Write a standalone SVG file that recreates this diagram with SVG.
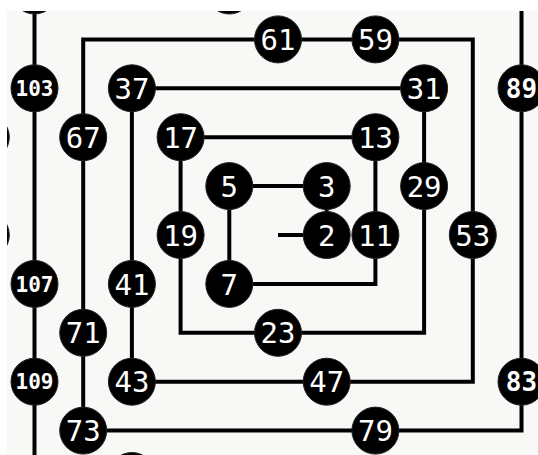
<svg xmlns="http://www.w3.org/2000/svg" width="538" height="455" viewBox="0 0 538 455">
<style>
.bg{fill:#f8f9f6}
.band{fill:#ffffff}
.wire{fill:none;stroke:#000;stroke-width:4;stroke-linejoin:miter}
.n circle{fill:#000;stroke:#222;stroke-width:1}
.n text{font-family:"DejaVu Sans Mono","Liberation Mono",monospace;font-size:29px;fill:#fff;text-anchor:middle}
.n text.s{font-size:21px;font-weight:bold}
.n text.m{font-size:26px;font-weight:bold}
</style>
<rect class="bg" x="0" y="0" width="538" height="455"/>
<g id="connectors">
<polyline class="wire" points="278,235 326.7,235 326.7,186.1 229.3,186.1 229.3,283.9 375.4,283.9 375.4,137.2 180.6,137.2 180.6,332.8 424.1,332.8 424.1,88.3 131.9,88.3 131.9,381.7 472.8,381.7 472.8,39.4 83.2,39.4 83.2,430.6 521.5,430.6 521.5,-9.5 34.5,-9.5 34.5,480"/>
</g>
<g id="n2" class="n"><circle cx="326.7" cy="235" r="23.5"/><text x="326.7" y="245.6">2</text></g>
<g id="n3" class="n"><circle cx="326.7" cy="186.1" r="23.5"/><text x="326.7" y="196.7">3</text></g>
<g id="n5" class="n"><circle cx="229.3" cy="186.1" r="23.5"/><text x="229.3" y="196.7">5</text></g>
<g id="n7" class="n"><circle cx="229.3" cy="283.9" r="23.5"/><text x="229.3" y="294.5">7</text></g>
<g id="n11" class="n"><circle cx="375.4" cy="235" r="23.5"/><text x="375.4" y="245.6">11</text></g>
<g id="n13" class="n"><circle cx="375.4" cy="137.2" r="23.5"/><text x="375.4" y="147.8">13</text></g>
<g id="n17" class="n"><circle cx="180.6" cy="137.2" r="23.5"/><text x="180.6" y="147.8">17</text></g>
<g id="n19" class="n"><circle cx="180.6" cy="235" r="23.5"/><text x="180.6" y="245.6">19</text></g>
<g id="n23" class="n"><circle cx="278" cy="332.8" r="23.5"/><text x="278" y="343.4">23</text></g>
<g id="n29" class="n"><circle cx="424.1" cy="186.1" r="23.5"/><text x="424.1" y="196.7">29</text></g>
<g id="n31" class="n"><circle cx="424.1" cy="88.3" r="23.5"/><text x="424.1" y="98.9">31</text></g>
<g id="n37" class="n"><circle cx="131.9" cy="88.3" r="23.5"/><text x="131.9" y="98.9">37</text></g>
<g id="n41" class="n"><circle cx="131.9" cy="283.9" r="23.5"/><text x="131.9" y="294.5">41</text></g>
<g id="n43" class="n"><circle cx="131.9" cy="381.7" r="23.5"/><text x="131.9" y="392.3">43</text></g>
<g id="n47" class="n"><circle cx="326.7" cy="381.7" r="23.5"/><text x="326.7" y="392.3">47</text></g>
<g id="n53" class="n"><circle cx="472.8" cy="235" r="23.5"/><text x="472.8" y="245.6">53</text></g>
<g id="n59" class="n"><circle cx="375.4" cy="39.4" r="23.5"/><text x="375.4" y="50">59</text></g>
<g id="n61" class="n"><circle cx="278" cy="39.4" r="23.5"/><text x="278" y="50">61</text></g>
<g id="n67" class="n"><circle cx="83.2" cy="137.2" r="23.5"/><text x="83.2" y="147.8">67</text></g>
<g id="n71" class="n"><circle cx="83.2" cy="332.8" r="23.5"/><text x="83.2" y="343.4">71</text></g>
<g id="n73" class="n"><circle cx="83.2" cy="430.6" r="23.5"/><text x="83.2" y="441.2">73</text></g>
<g id="n79" class="n"><circle cx="375.4" cy="430.6" r="23.5"/><text x="375.4" y="441.2">79</text></g>
<g id="n83" class="n"><circle cx="521.5" cy="381.7" r="23.5"/><text class="m" x="521.5" y="391.2">83</text></g>
<g id="n89" class="n"><circle cx="521.5" cy="88.3" r="23.5"/><text class="m" x="521.5" y="97.8">89</text></g>
<g id="n97" class="n"><circle cx="229.3" cy="-9.5" r="23.5"/></g>
<g id="n101" class="n"><circle cx="34.5" cy="-9.5" r="23.5"/></g>
<g id="n103" class="n"><circle cx="34.5" cy="88.3" r="23.5"/><text class="s" x="34.5" y="96">103</text></g>
<g id="n107" class="n"><circle cx="34.5" cy="283.9" r="23.5"/><text class="s" x="34.5" y="291.6">107</text></g>
<g id="n109" class="n"><circle cx="34.5" cy="381.7" r="23.5"/><text class="s" x="34.5" y="389.4">109</text></g>
<g id="n113" class="n"><circle cx="131.9" cy="476" r="23.5"/></g>
<g id="n149" class="n"><circle cx="-14.2" cy="137.2" r="23.5"/></g>
<g id="n151" class="n"><circle cx="-14.2" cy="235" r="23.5"/></g>
<rect class="band" x="0" y="0" width="538" height="11"/>
<rect class="band" x="0" y="0" width="7" height="455"/>
</svg>
